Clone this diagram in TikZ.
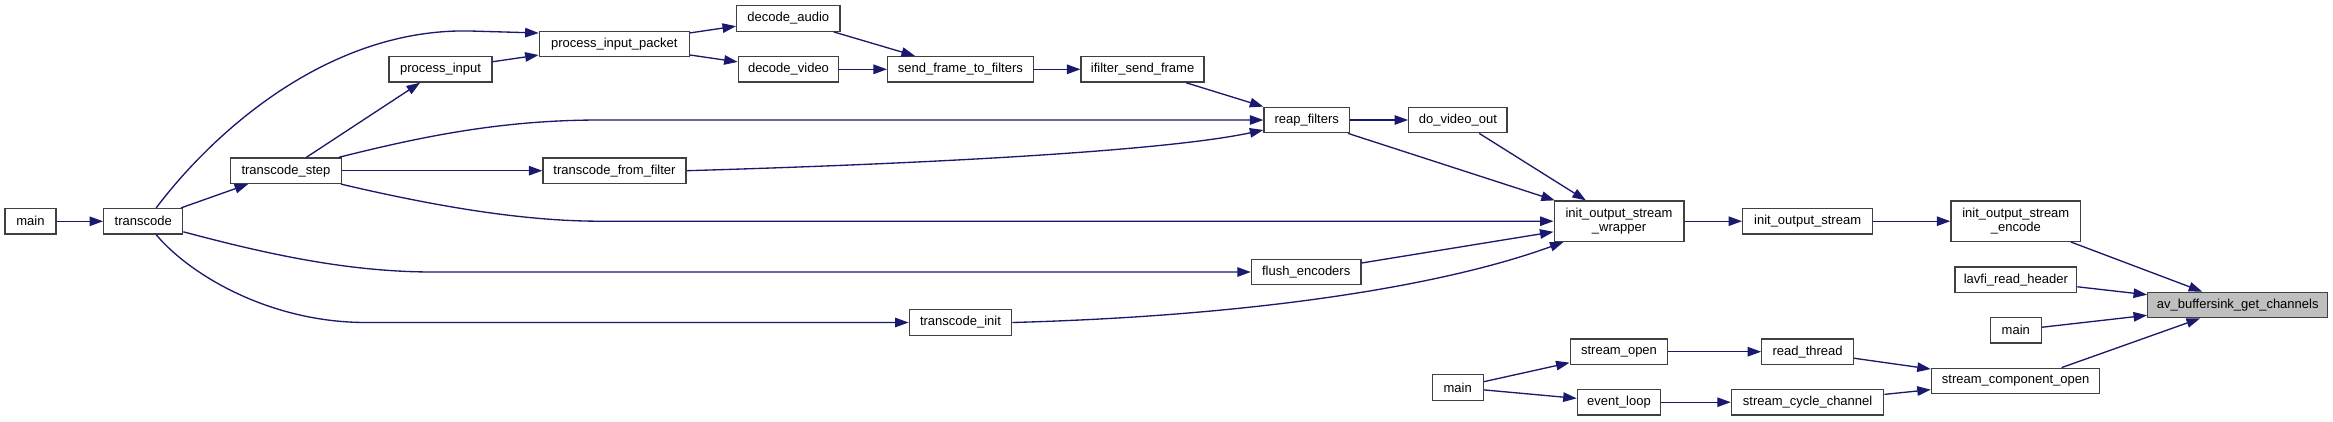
\documentclass[tikz,border=0pt]{standalone}
\usepackage{fontspec}
\setmainfont{Liberation Sans}
\usetikzlibrary{arrows.meta,calc}
\definecolor{edgeblue}{HTML}{191970}
\definecolor{nodeborder}{HTML}{404040}
\definecolor{targetfill}{HTML}{BFBFBF}
\begin{document}
\begin{tikzpicture}[x=1pt,y=-1pt,
  fn/.style={draw=nodeborder, fill=white, line width=1.33pt, inner sep=0pt, minimum height=25.5pt, font=\fontsize{13}{14.7}\selectfont, align=center},
  tall/.style={minimum height=40.3pt},
  target/.style={fill=targetfill},
  call/.style={draw=edgeblue, line width=1.33pt, -{Triangle[length=13.5pt,width=9.5pt]}},
]
\fill[white] (0,0) rectangle (2333,421);
\useasboundingbox (0,0) rectangle (2333,421);

% nodes
\node[fn, minimum width=51pt] (mainA) at (30.5,221.3) {main};
\node[fn, minimum width=79pt] (transcode) at (143.2,221.3) {transcode};
\node[fn, minimum width=110.6pt] (tstep) at (286,170.7) {transcode\_step};
\node[fn, minimum width=103pt] (pinput) at (440.5,69.3) {process\_input};
\node[fn, minimum width=150pt] (pip) at (614.3,44) {process\_input\_packet};
\node[fn, minimum width=143pt] (tff) at (614.5,170.7) {transcode\_from\_filter};
\node[fn, minimum width=103.3pt] (daudio) at (788.3,18.5) {decode\_audio};
\node[fn, minimum width=100.4pt] (dvideo) at (788.5,69.3) {decode\_video};
\node[fn, minimum width=145.5pt] (sftf) at (960.4,69.3) {send\_frame\_to\_filters};
\node[fn, minimum width=123pt] (ifsf) at (1142.6,69.3) {ifilter\_send\_frame};
\node[fn, minimum width=85.4pt] (reap) at (1306.7,120) {reap\_filters};
\node[fn, minimum width=98.4pt] (dvo) at (1457.9,120) {do\_video\_out};
\node[fn, minimum width=109.5pt] (flush) at (1306.2,272) {flush\_encoders};
\node[fn, minimum width=102.5pt] (tinit) at (960.5,322.5) {transcode\_init};
\node[fn, tall, minimum width=129.7pt] (iosw) at (1619,221.2) {init\_output\_stream\\\_wrapper};
\node[fn, minimum width=129.8pt] (ios) at (1807.6,221.2) {init\_output\_stream};
\node[fn, tall, minimum width=129.7pt] (iose) at (2015.8,221.2) {init\_output\_stream\\\_encode};
\node[fn, minimum width=121.7pt] (lavfi) at (2015.8,279.8) {lavfi\_read\_header};
\node[fn, target, minimum width=180pt] (avb) at (2237.7,305) {av\_buffersink\_get\_channels};
\node[fn, minimum width=51pt] (mainB) at (2015.8,330.2) {main};
\node[fn, minimum width=97.6pt] (sopen) at (1619,351.7) {stream\_open};
\node[fn, minimum width=91.6pt] (rthread) at (1807.6,351.7) {read\_thread};
\node[fn, minimum width=51pt] (mainC) at (1457.7,387.5) {main};
\node[fn, minimum width=83.3pt] (eloop) at (1619,402.2) {event\_loop};
\node[fn, minimum width=152.4pt] (scc) at (1807.6,402.2) {stream\_cycle\_channel};
\node[fn, minimum width=168.4pt] (sco) at (2015.6,381) {stream\_component\_open};

% edges
\draw[call] (mainA) -- (transcode);
\draw[call] (transcode) -- (tstep);
\draw[call] ($(transcode.north)+(13,0)$) .. controls (215,130) and (330,28) .. (470,31) -- ($(pip.west)+(0,-11)$);
\draw[call] (tstep) -- (pinput);
\draw[call] (pinput) -- (pip);
\draw[call] (tstep) -- (tff);
\draw[call] ($(tstep.north east)+(-3,0)$) .. controls (420,137) and (500,120) .. (600,120) -- (reap.west);
\draw[call] ($(tstep.south east)+(-1,0)$) .. controls (430,205) and (520,221.2) .. (600,221.2) -- (iosw.west);
\draw[call] ($(transcode.east)+(0,10.5)$) .. controls (270,255) and (350,272) .. (433,272) -- (flush.west);
\draw[call] ($(transcode.south)+(13,0)$) .. controls (190,275) and (270,322.5) .. (366,322.5) -- (tinit.west);
\draw[call] (pip) -- (daudio);
\draw[call] (pip) -- (dvideo);
\draw[call] (daudio) -- (sftf);
\draw[call] (dvideo) -- (sftf);
\draw[call] (sftf) -- (ifsf);
\draw[call] (ifsf) -- (reap);
\draw[call] (tff.east) .. controls (950,163) and (1170,150) .. ($(reap.west)+(0,10)$);
\draw[call] (reap) -- (dvo);
\draw[call] (reap) -- (iosw);
\draw[call] (dvo) -- (iosw);
\draw[call] (flush) -- (iosw);
\draw[call] (tinit.east) .. controls (1250,316) and (1440,287) .. ($(iosw.south west)+(10,0)$);
\draw[call] (iosw) -- (ios);
\draw[call] (ios) -- (iose);
\draw[call] (iose) -- (avb);
\draw[call] (lavfi) -- (avb);
\draw[call] (mainB) -- (avb);
\draw[call] ($(sco.north)+(46,0)$) -- (avb);
\draw[call] (mainC) -- (sopen);
\draw[call] (mainC) -- (eloop);
\draw[call] (sopen) -- (rthread);
\draw[call] (eloop) -- (scc);
\draw[call] (rthread) -- (sco);
\draw[call] (scc) -- (sco);
\end{tikzpicture}
\end{document}
